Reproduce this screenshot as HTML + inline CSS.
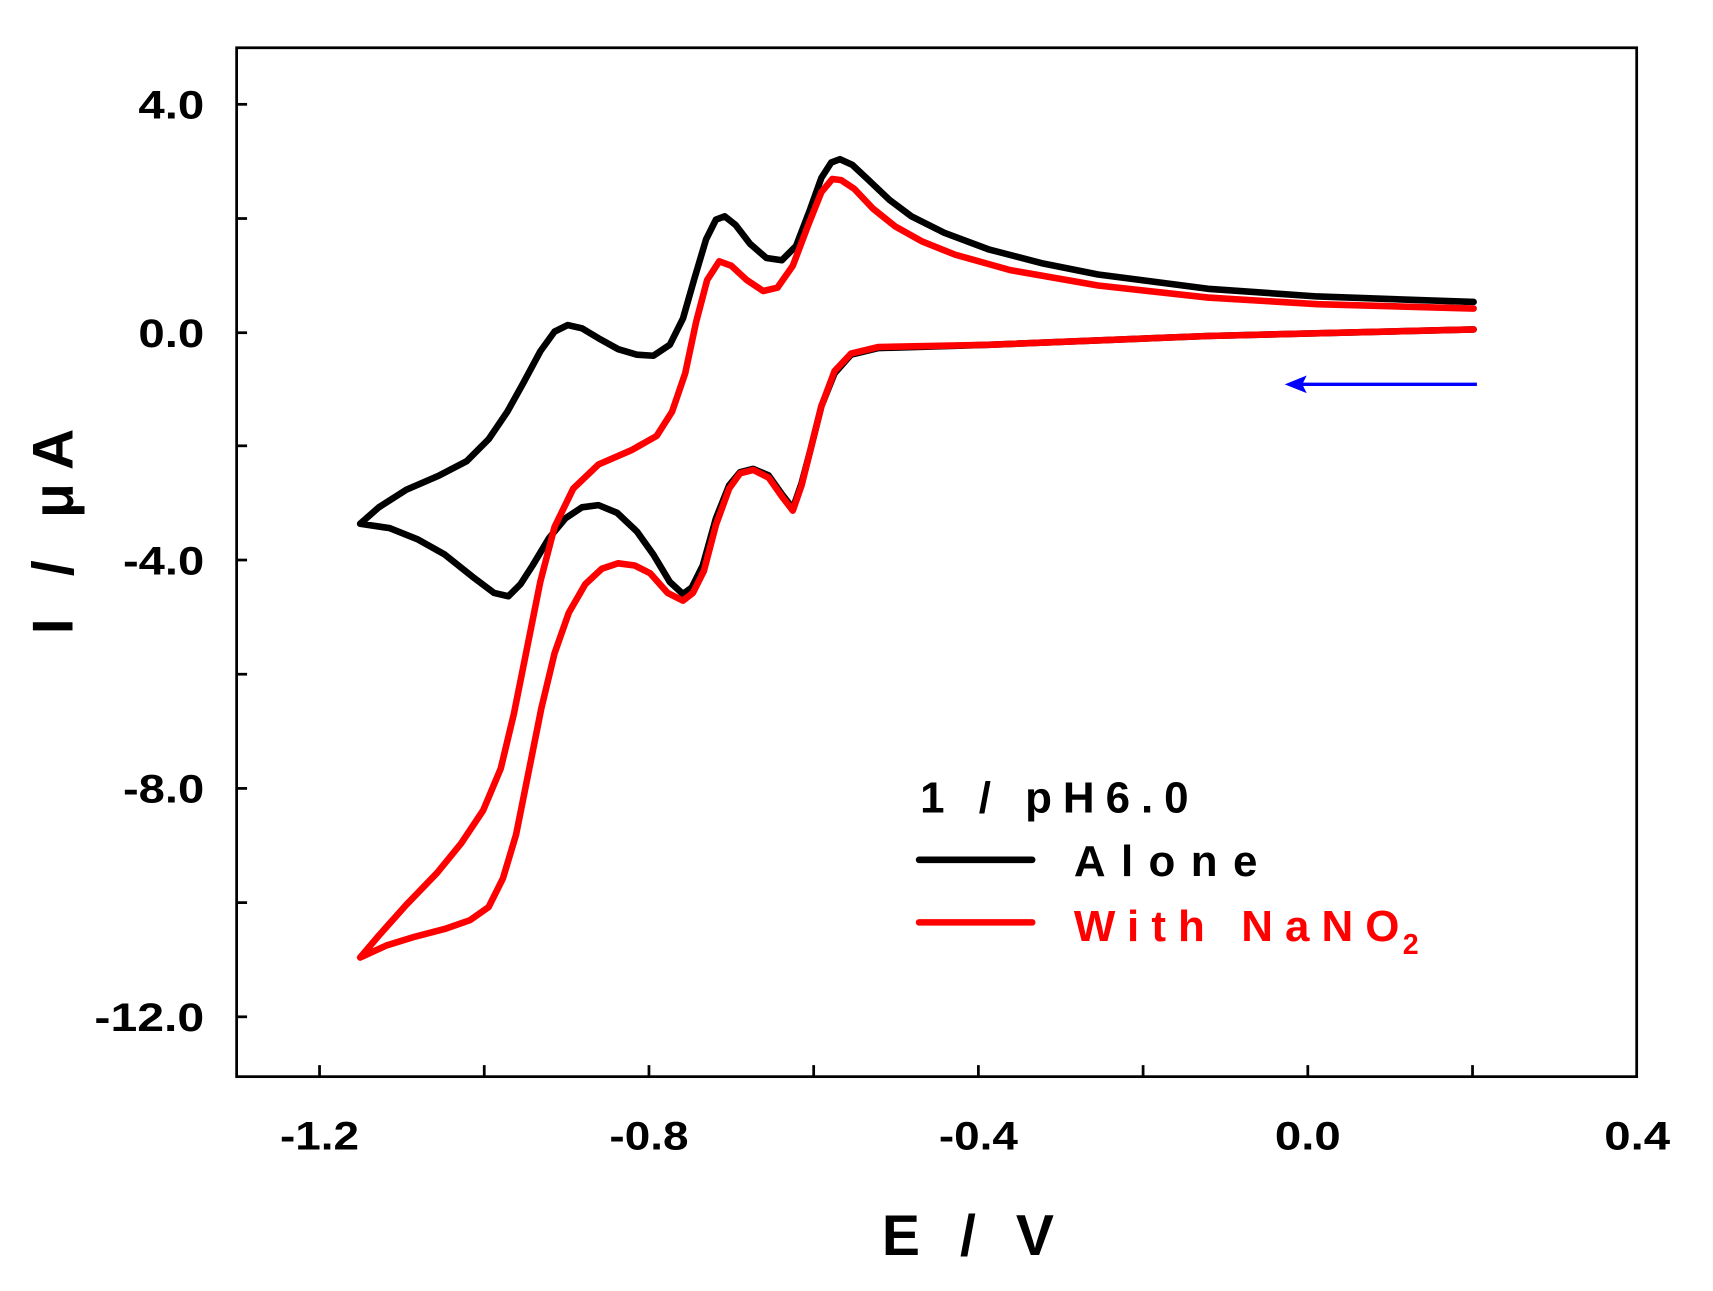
<!DOCTYPE html>
<html><head><meta charset="utf-8"><style>
html,body{margin:0;padding:0;background:#fff;}
svg{display:block;}
text{font-family:"Liberation Sans",Arial,sans-serif;font-weight:bold;}
</style></head><body>
<svg width="1713" height="1291" viewBox="0 0 1560 1175.7" preserveAspectRatio="none" xmlns="http://www.w3.org/2000/svg">
<rect x="0" y="0" width="1560" height="1176" fill="#fff"/>
<rect x="215.5" y="43.5" width="1275" height="937" fill="none" stroke="#000" stroke-width="2.5"/>
<g stroke="#000" stroke-width="2.5">
<line x1="291" y1="980" x2="291" y2="970"/><line x1="441" y1="980" x2="441" y2="970"/>
<line x1="591" y1="980" x2="591" y2="970"/><line x1="741" y1="980" x2="741" y2="970"/>
<line x1="891" y1="980" x2="891" y2="970"/><line x1="1041" y1="980" x2="1041" y2="970"/>
<line x1="1191" y1="980" x2="1191" y2="970"/><line x1="1341" y1="980" x2="1341" y2="970"/>
<line x1="215" y1="95" x2="225" y2="95"/><line x1="215" y1="199" x2="225" y2="199"/>
<line x1="215" y1="303" x2="225" y2="303"/><line x1="215" y1="406" x2="225" y2="406"/>
<line x1="215" y1="510" x2="225" y2="510"/><line x1="215" y1="614" x2="225" y2="614"/>
<line x1="215" y1="718" x2="225" y2="718"/><line x1="215" y1="822" x2="225" y2="822"/>
<line x1="215" y1="926" x2="225" y2="926"/>
</g>
<g font-size="36" text-anchor="middle">
<text x="291" y="1047" textLength="72" lengthAdjust="spacingAndGlyphs">-1.2</text>
<text x="591" y="1047" textLength="72" lengthAdjust="spacingAndGlyphs">-0.8</text>
<text x="891" y="1047" textLength="72" lengthAdjust="spacingAndGlyphs">-0.4</text>
<text x="1191" y="1047" textLength="60" lengthAdjust="spacingAndGlyphs">0.0</text>
<text x="1491" y="1047" textLength="60" lengthAdjust="spacingAndGlyphs">0.4</text>
</g>
<g font-size="36" text-anchor="end">
<text x="186" y="108" textLength="60" lengthAdjust="spacingAndGlyphs">4.0</text>
<text x="186" y="316" textLength="60" lengthAdjust="spacingAndGlyphs">0.0</text>
<text x="186" y="523" textLength="74" lengthAdjust="spacingAndGlyphs">-4.0</text>
<text x="186" y="731" textLength="74" lengthAdjust="spacingAndGlyphs">-8.0</text>
<text x="186" y="939" textLength="100" lengthAdjust="spacingAndGlyphs">-12.0</text>
</g>
<text x="887" y="1143" font-size="52" text-anchor="middle" letter-spacing="11">E / V</text>
<text transform="translate(66,478) rotate(-90)" font-size="52" text-anchor="middle" letter-spacing="12">I / μA</text>
<g fill="none" stroke-width="6" stroke-linejoin="round" stroke-linecap="round">
<polyline stroke="#000" points="1342,300 1100,306 900,314 800,317 775,323 760,340 748,370 738,410 730,440 722,463 712,450 700,433 686,427 674,430 664,442 652,472 640,515 630,535 622,541 610,530 595,505 580,484 562,467 545,460 530,462 515,472 500,490 485,515 474,532 463,543 450,540 430,525 405,505 380,491 355,481 328,477 345,462 370,446 400,433 425,420 445,400 462,375 477,348 492,320 505,302 517,296 530,299 545,308 563,318 580,323 595,324 610,314 622,290 632,255 643,218 652,200 660,197 670,205 683,222 698,235 712,237 725,224 738,190 748,162 757,148 765,145 776,150 790,163 810,182 830,197 860,212 900,227 950,240 1000,250 1100,263 1200,270 1342,275"/>
<polyline stroke="#f00" points="1342,300 1100,306 900,314 800,316 775,322 760,338 748,370 738,410 730,442 722,465 712,452 700,435 686,428 674,431 664,445 652,478 641,520 631,540 622,547 608,540 592,522 578,515 563,513 548,518 533,532 518,558 505,595 493,645 482,700 470,760 458,800 445,826 428,838 405,846 378,853 352,861 328,872 345,852 370,824 398,795 420,768 440,738 456,700 468,650 480,590 492,530 505,480 522,445 545,423 575,410 598,397 612,375 624,340 634,293 644,255 655,238 666,242 680,255 695,265 708,262 722,242 736,205 748,175 758,163 766,164 778,172 795,190 815,206 840,220 870,232 920,246 1000,260 1100,271 1200,277 1342,281"/>
</g>
<line x1="1345" y1="350" x2="1182" y2="350" stroke="#00f" stroke-width="3"/>
<polygon points="1170,350 1190,342 1186,350 1190,358" fill="#00f"/>
<text x="838" y="740" font-size="40" letter-spacing="10">1 / pH6.0</text>
<line x1="837" y1="783" x2="940" y2="783" stroke="#000" stroke-width="6" stroke-linecap="round"/>
<text x="978" y="798" font-size="40" letter-spacing="14">Alone</text>
<line x1="837" y1="840" x2="940" y2="840" stroke="#f00" stroke-width="6" stroke-linecap="round"/>
<text x="978" y="857" font-size="40" letter-spacing="11" fill="#f00">With NaNO<tspan font-size="26" dy="12" dx="-8">2</tspan></text>
</svg>
</body></html>
